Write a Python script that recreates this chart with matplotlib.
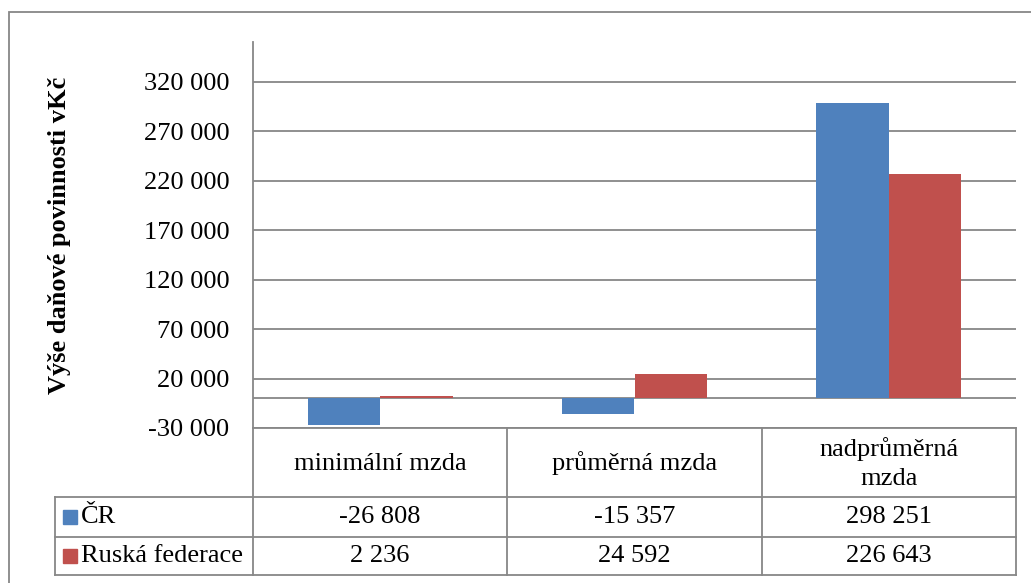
import matplotlib
matplotlib.use("Agg")
import matplotlib.pyplot as plt
from matplotlib.transforms import blended_transform_factory
from matplotlib.patches import Rectangle
from matplotlib.lines import Line2D
import numpy as np

categories = ["minimální mzda", "průměrná mzda", "nadprůměrná\nmzda"]
series_names = ["ČR", "Ruská federace"]
cr_values = [-26808, -15357, 298251]
rf_values = [2236, 24592, 226643]
colors = ["#4F81BD", "#C0504D"]
yticks = [-30000, 20000, 70000, 120000, 170000, 220000, 270000, 320000]
ylabel = "Výše daňové povinnosti vKč"

def fmt(v):
    s = f"{abs(v):,}".replace(",", " ")
    return ("-" if v < 0 else "") + s

plt.rcParams['font.family'] = ['Liberation Serif', 'DejaVu Serif']
FS = 19
GRAY = "#878787"

fig = plt.figure(figsize=(10.31, 5.83), dpi=100)
W, H = 1031, 583
ax = fig.add_axes([253 / W, 1 - 428 / H, (1016 - 253) / W, (428 - 42) / H])

# figure border
fig.patches.append(Rectangle((9 / W, -0.05), 1.2, 1 - 12 / H + 0.05, transform=fig.transFigure,
                             fill=False, edgecolor=GRAY, lw=1.3))

x = np.arange(len(categories))
w = 1 / 3.5
ax.bar(x - w / 2, cr_values, w, color=colors[0], zorder=3)
ax.bar(x + w / 2, rf_values, w, color=colors[1], zorder=3)

ax.set_xlim(-0.5, len(categories) - 0.5)
ax.set_ylim(-30000, 360000)
ax.set_yticks(yticks)
ax.set_yticklabels([fmt(v) for v in yticks], fontsize=FS)
ax.tick_params(axis='y', length=0, pad=17)
ax.set_xticks([])
for yv in yticks:
    ax.axhline(yv, color=GRAY, lw=1.3, zorder=1)
ax.axhline(0, color=GRAY, lw=1.3, zorder=2)
for s in ["top", "right", "bottom"]:
    ax.spines[s].set_visible(False)
ax.spines["left"].set_color(GRAY)
ax.spines["left"].set_linewidth(1.3)

fig.text(60 / W, 1 - 235 / H, ylabel, rotation=90, fontsize=FS, fontweight='bold',
         ha='center', va='center')

# data table
trans = blended_transform_factory(ax.transData, ax.transAxes)
ah = 428 - 42
def yf(py):
    return (428 - py) / ah

row_y = [428, 497, 537, 575]
xl = -0.5 - (253 - 55) * len(categories) / (1016 - 253)
xr = len(categories) - 0.5
lkw = dict(color=GRAY, lw=1.3, transform=trans, clip_on=False)
ax.add_line(Line2D([-0.5, xr], [yf(428), yf(428)], **lkw))
for py in row_y[1:]:
    ax.add_line(Line2D([xl, xr], [yf(py), yf(py)], **lkw))
ax.add_line(Line2D([xl, xl], [yf(497), yf(575)], **lkw))
for bx in np.arange(len(categories) + 1) - 0.5:
    ax.add_line(Line2D([bx, bx], [yf(428), yf(575)], **lkw))

for i, c in enumerate(categories):
    ax.text(i, yf((row_y[0] + row_y[1]) / 2 + 1), c, transform=trans, ha='center', va='center',
            fontsize=FS, linespacing=1.45, clip_on=False)
for r, (name, vals) in enumerate(zip(series_names, [cr_values, rf_values])):
    cy = yf((row_y[r + 1] + row_y[r + 2]) / 2)
    for i, v in enumerate(vals):
        ax.text(i, cy, fmt(v), transform=trans, ha='center', va='center', fontsize=FS, clip_on=False)
    kx = 63 / W
    fy = (583 - (row_y[r + 1] + row_y[r + 2]) / 2) / H
    fig.patches.append(Rectangle((kx, fy - 7 / H), 14 / W, 14 / H, transform=fig.transFigure,
                                 color=colors[r]))
    fig.text(81 / W, fy, name, fontsize=FS, ha='left', va='center')

fig.savefig("out.png", dpi=100)
